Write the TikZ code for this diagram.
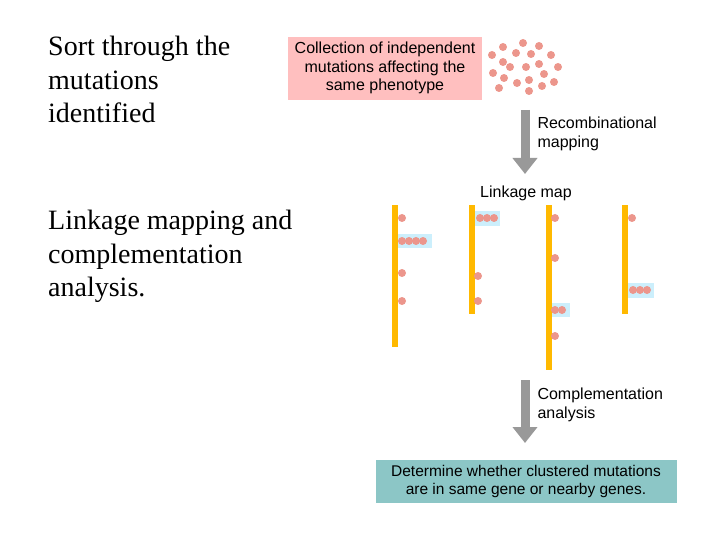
\documentclass[tikz,border=0pt]{standalone}
\usepackage{fontspec}
\setmainfont{Liberation Serif}
\newfontfamily\sansf{Liberation Sans}
\usetikzlibrary{arrows.meta}
\definecolor{salmon}{RGB}{236,150,140}
\begin{document}
\begin{tikzpicture}[x=1pt,y=-1pt,
  dot/.style={circle,fill=salmon,inner sep=0,minimum size=8pt},
  bar/.style={fill=orange!55!yellow,draw=none},
  clus/.style={fill=cyan!20,draw=none},
  lbl/.style={font=\sansf\fontsize{16}{18.5}\selectfont,align=left,anchor=west},
  big/.style={font=\fontsize{28}{33.5}\selectfont,align=left,anchor=north west,inner sep=0},
  garrow/.style={line width=9pt,gray!80,-{Triangle[length=16pt,width=24pt]}}]
\useasboundingbox (0,0) rectangle (720,540);
\node[big] (t1) at (48,36) {Sort through the\\mutations\\identified};
\node[big] (t2) at (48,210) {Linkage mapping and\\complementation\\analysis.};
\fill[red!25!white] (288,37) rectangle (482,100);
\node[font=\sansf\fontsize{16}{18.5}\selectfont,align=center] (coll) at (385,68) {Collection of independent\\mutations affecting the\\same phenotype};
\foreach \p in {(492,55),(503,47),(523,43),(516,53),(531,54),(539,46),(551,55),(503,62),(510,67),(526,67),(539,64),(558,67),(493,73),(504,78),(517,83),(529,80),(544,74),(554,82),(499,88),(529,91),(542,86)}
  \node[dot] at \p {};
\coordinate (a1s) at (525,110); \coordinate (a1e) at (525,174);
\draw[garrow] (a1s) -- (a1e);
\node[lbl] (rm) at (534,134) {Recombinational\\mapping};
\node[font=\sansf\fontsize{16}{18}\selectfont] (lm) at (526,193) {Linkage map};
\fill[bar] (392,205) rectangle (398,347);
\fill[bar] (469,205) rectangle (475,314);
\fill[bar] (546,205) rectangle (552,370);
\fill[bar] (622,205) rectangle (628,314);
\fill[clus] (398,234) rectangle (432,248);
\fill[clus] (475,211) rectangle (500,226);
\fill[clus] (552,303) rectangle (570,317);
\fill[clus] (628,283) rectangle (654,298);
\foreach \p in {(402,218),(402,241),(409,241),(416,241),(423,241),(402,273),(402,301),
  (480,218),(487,218),(494,218),(478,276),(478,301),
  (555,218),(555,258),(555,310),(562,310),(555,336),
  (632,218),(633,290),(640,290),(647,290)}
  \node[dot] at \p {};
\coordinate (a2s) at (525,380); \coordinate (a2e) at (525,443);
\draw[garrow] (a2s) -- (a2e);
\node[lbl] (ca) at (534,405) {Complementation\\analysis};
\fill[teal!45!white] (376,460) rectangle (677,503);
\node[font=\sansf\fontsize{15.5}{18}\selectfont,align=center] (det) at (526,481) {Determine whether clustered mutations\\are in same gene or nearby genes.};
\end{tikzpicture}
\end{document}
